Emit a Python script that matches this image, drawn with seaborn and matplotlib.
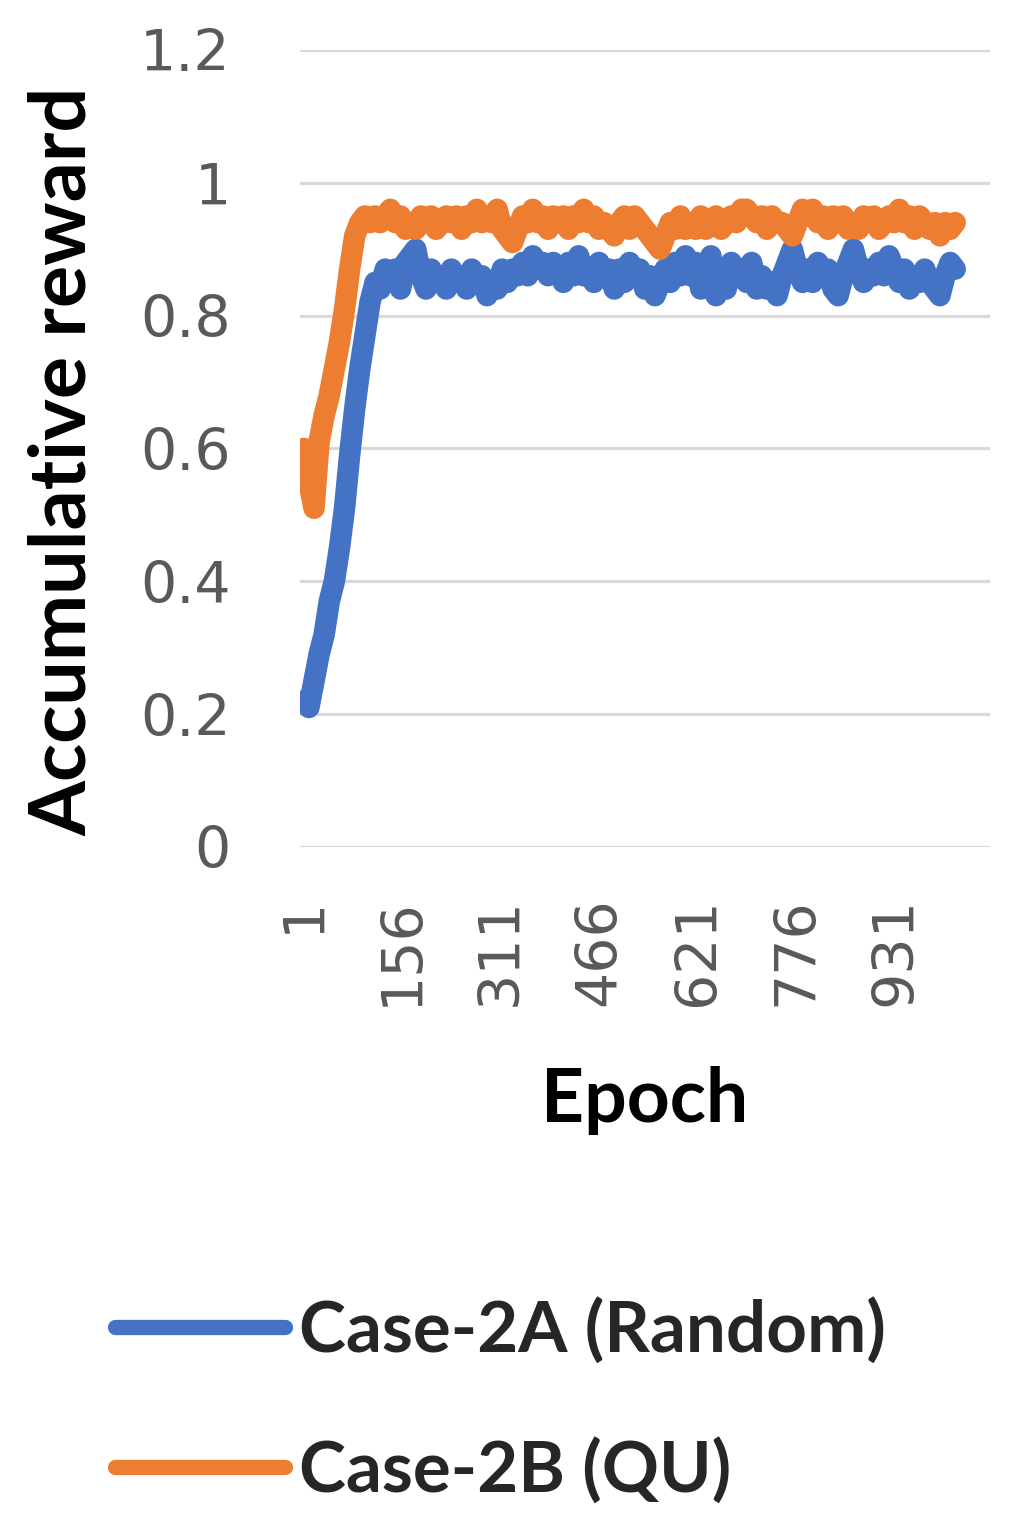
import numpy as np
import pandas as pd
import matplotlib
matplotlib.use("Agg")
import matplotlib.pyplot as plt
import seaborn as sns

# values, one every 8 epochs starting at epoch 1
STEP = 8
random_reward = [
    0.22, 0.21, 0.25, 0.29, 0.32, 0.37, 0.40, 0.45, 0.51, 0.59,
    0.66, 0.72, 0.77, 0.82, 0.85,
    0.84, 0.87, 0.85, 0.87, 0.84, 0.88, 0.89, 0.90, 0.86, 0.84,
    0.87, 0.85, 0.86, 0.84, 0.87, 0.85, 0.86, 0.84, 0.87, 0.85,
    0.86, 0.83, 0.85, 0.84, 0.87, 0.85, 0.87, 0.86, 0.88, 0.86,
    0.89, 0.87, 0.88, 0.86, 0.88, 0.87, 0.85, 0.88, 0.86, 0.89,
    0.86, 0.87, 0.85, 0.88, 0.86, 0.87, 0.84, 0.87, 0.85, 0.88,
    0.86, 0.87, 0.84, 0.86, 0.83, 0.85, 0.87, 0.85, 0.88, 0.86,
    0.89, 0.86, 0.88, 0.84, 0.87, 0.89, 0.83, 0.86, 0.84, 0.88,
    0.86, 0.87, 0.85, 0.88, 0.84, 0.86, 0.84, 0.85, 0.83, 0.86,
    0.88, 0.90, 0.87, 0.85, 0.87, 0.85, 0.88, 0.86, 0.87, 0.84,
    0.83, 0.86, 0.88, 0.90, 0.87, 0.85, 0.87, 0.86, 0.88, 0.86,
    0.89, 0.87, 0.85, 0.87, 0.84, 0.86, 0.85, 0.87, 0.85, 0.84,
    0.83, 0.86, 0.88, 0.87,
]
qu_reward = [
    0.60, 0.55, 0.51, 0.61, 0.65, 0.68, 0.72, 0.76, 0.81, 0.87,
    0.92, 0.94, 0.95, 0.94, 0.95,
    0.94, 0.95, 0.96, 0.94, 0.95, 0.93, 0.94, 0.93, 0.95, 0.94,
    0.95, 0.93, 0.94, 0.95, 0.94, 0.95, 0.93, 0.95, 0.94, 0.96,
    0.94, 0.95, 0.94, 0.96, 0.93, 0.92, 0.91, 0.93, 0.95, 0.94,
    0.96, 0.94, 0.95, 0.93, 0.95, 0.94, 0.95, 0.93, 0.95, 0.94,
    0.96, 0.94, 0.95, 0.93, 0.94, 0.93, 0.92, 0.94, 0.95, 0.93,
    0.95, 0.94, 0.93, 0.92, 0.91, 0.90, 0.92, 0.94, 0.93, 0.95,
    0.93, 0.94, 0.93, 0.95, 0.93, 0.94, 0.95, 0.93, 0.94, 0.95,
    0.94, 0.96, 0.96, 0.95, 0.94, 0.95, 0.93, 0.95, 0.94, 0.94,
    0.93, 0.92, 0.94, 0.96, 0.95, 0.96, 0.94, 0.95, 0.93, 0.95,
    0.94, 0.95, 0.93, 0.94, 0.93, 0.95, 0.94, 0.95, 0.93, 0.94,
    0.95, 0.94, 0.96, 0.94, 0.95, 0.93, 0.95, 0.94, 0.93, 0.94,
    0.92, 0.94, 0.93, 0.94,
]
series_names = ["Case-2A (Random)", "Case-2B (QU)"]
colors = ["#4472C4", "#ED7D31"]
x_ticks = [1, 156, 311, 466, 621, 776, 931]
y_ticks = [0, 0.2, 0.4, 0.6, 0.8, 1.0, 1.2]
y_labels = ["0", "0.2", "0.4", "0.6", "0.8", "1", "1.2"]


def build_frame():
    parts = []
    for name, vals in zip(series_names, [random_reward, qu_reward]):
        epochs = 1 + STEP * np.arange(len(vals))
        parts.append(pd.DataFrame({"Epoch": epochs, "Reward": vals, "Series": name}))
    return pd.concat(parts, ignore_index=True)


sns.set_style("white")
plt.rcParams["font.family"] = ["DejaVu Sans"]

df = build_frame()

fig = plt.figure(figsize=(10.17, 15.36), dpi=100)
ax = fig.add_axes([0.295, 0.4486, 0.678, 0.5189])

sns.lineplot(
    data=df,
    x="Epoch",
    y="Reward",
    hue="Series",
    palette=colors,
    linewidth=15.5,
    ax=ax,
    legend=True,
)
for line in ax.get_lines():
    line.set_solid_capstyle("round")
    line.set_solid_joinstyle("round")

ax.set_xlim(-5, 1079)
ax.set_ylim(0, 1.2)
ax.set_yticks(y_ticks)
ax.set_yticklabels(y_labels)
ax.set_xticks(x_ticks)
ax.set_xticklabels([str(t) for t in x_ticks], rotation=90)
ax.tick_params(axis="y", length=0, pad=50, labelsize=41, labelcolor="#595959")
ax.tick_params(axis="x", length=0, pad=36, labelsize=41, labelcolor="#595959")
ax.grid(axis="y", color="#d9d9d9", linewidth=2.3)
ax.grid(axis="x", visible=False)
ax.set_axisbelow(True)
for s in ax.spines.values():
    s.set_visible(False)

ax.set_ylabel("Accumulative reward", fontsize=57, fontweight="bold",
              family="Lato", color="black", va="center")
ax.yaxis.set_label_coords(-0.343, 0.484)
ax.set_xlabel("Epoch", fontsize=54, fontweight="bold",
              family="Lato", color="black", va="center")
ax.xaxis.set_label_coords(0.5, -0.318)

handles, labels = ax.get_legend_handles_labels()
ax.get_legend().remove()
leg = fig.legend(
    handles, labels,
    loc="upper left",
    bbox_to_anchor=(0.113, 0.1555),
    frameon=False,
    borderpad=0,
    borderaxespad=0,
    handlelength=2.4,
    handletextpad=0.2,
    labelspacing=1.02,
    prop={"family": "Lato", "weight": "bold", "size": 51},
)
for h in leg.get_lines():
    h.set_linewidth(11)
    h.set_solid_capstyle("round")

fig.savefig("out.png", dpi=100, facecolor="white")
